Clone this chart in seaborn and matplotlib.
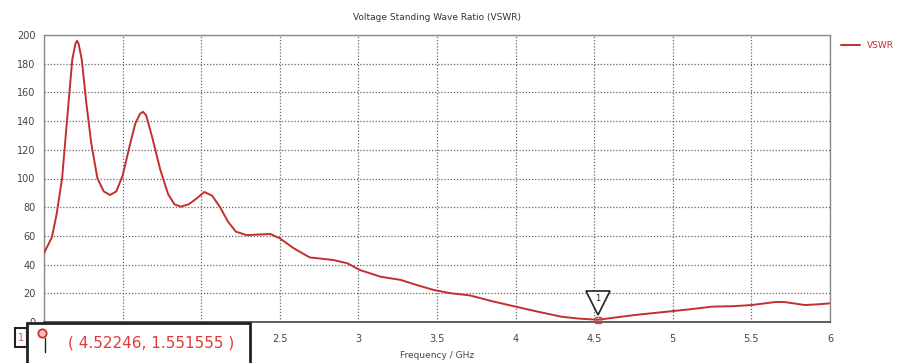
import matplotlib
matplotlib.use("Agg")
import matplotlib.pyplot as plt
import matplotlib.transforms as mtransforms
from matplotlib.patches import Rectangle
import seaborn as sns
import pandas as pd

# ---- data ----
freq = [1.00, 1.05, 1.08, 1.115, 1.15, 1.18, 1.20, 1.21, 1.22, 1.24, 1.27, 1.30, 1.34, 1.38, 1.42,
        1.46, 1.50, 1.55, 1.58, 1.61, 1.63, 1.65, 1.69, 1.74, 1.79, 1.83, 1.87, 1.92, 1.97,
        2.02, 2.07, 2.12, 2.17, 2.22, 2.29, 2.37, 2.44, 2.50, 2.59, 2.69, 2.84, 2.93,
        3.01, 3.14, 3.27, 3.37, 3.48, 3.59, 3.71, 3.85, 4.00, 4.15, 4.29, 4.40, 4.52246,
        4.64, 4.76, 5.00, 5.12, 5.25, 5.38, 5.50, 5.65, 5.71, 5.78, 5.84, 5.92, 6.00]
vswr = [48, 59, 75, 100, 145, 183, 194, 196, 194, 183, 152, 125, 100, 91, 88.5,
        91, 102, 125, 138, 145, 146.5, 144, 128, 106, 89, 82, 80.4, 82, 86,
        90.6, 88, 80, 70, 63, 60.5, 61, 61.3, 58.3, 51.3, 45, 43.2, 40.9,
        36.2, 31.6, 29.3, 25.8, 22.3, 20, 18.5, 14.5, 10.7, 7, 3.7, 2.4, 1.551555,
        3.2, 4.9, 7.6, 9, 10.7, 11, 11.8, 13.9, 13.9, 12.8, 11.8, 12.3, 13]
x_ticks = [1, 1.5, 2, 2.5, 3, 3.5, 4, 4.5, 5, 5.5, 6]
# labels 1, 1.5 and 2 are hidden behind the marker readout box in the reference
x_tick_labels = ["", "", "", "2.5", "3", "3.5", "4", "4.5", "5", "5.5", "6"]
y_ticks = list(range(0, 201, 20))
marker_x = 4.52246
marker_y = 1.551555
series_name = "VSWR"
title = "Voltage Standing Wave Ratio (VSWR)"
xlabel = "Frequency / GHz"

df = pd.DataFrame({"Frequency": freq, "VSWR": vswr})

sns.set_style("white")
plt.rcParams["font.family"] = ["DejaVu Sans"]

fig = plt.figure(figsize=(9.01, 3.63), dpi=100)
ax = fig.add_axes([44 / 901, 1 - 322 / 363, (830 - 44) / 901, (322 - 35) / 363])

line_color = "#c0302e"
sns.lineplot(data=df, x="Frequency", y="VSWR", ax=ax, color=line_color,
             linewidth=1.4, label=series_name, zorder=3)

ax.set_xlim(1, 6)
ax.set_ylim(0, 200)
ax.set_xticks(x_ticks)
ax.set_xticklabels(x_tick_labels)
ax.set_yticks(y_ticks)
ax.tick_params(axis="both", labelsize=7, colors="#444444", length=0, pad=6)
ax.tick_params(axis="x", pad=9)
ax.grid(True, linestyle=(0, (1, 1.5)), color="#666666", linewidth=0.9)
for s in ax.spines.values():
    s.set_color("#8a8a8a")
    s.set_linewidth(1.0)
ax.spines["bottom"].set_color("#444444")
ax.spines["bottom"].set_linewidth(1.2)

ax.set_xlabel("")
ax.set_ylabel("")
fig.text(437 / 901, 1 - 17 / 363, title, ha="center", va="center", fontsize=6.5, color="#333333")
fig.text(437 / 901, 1 - 355 / 363, xlabel, ha="center", va="center", fontsize=6.5, color="#444444")

leg = ax.legend(loc="upper left", bbox_to_anchor=(1.01, 0.99), frameon=False,
                handlelength=2.0, fontsize=6.5, labelcolor=line_color, borderaxespad=0)

# marker at minimum
ax.plot([marker_x], [marker_y], marker="s", markersize=5, markerfacecolor="none",
        markeredgecolor="#e04040", markeredgewidth=1.0, zorder=5, clip_on=False)
off = mtransforms.offset_copy(ax.transData, fig=fig, x=0, y=12, units="points")
ax.plot([marker_x], [marker_y], marker="v", markersize=17, markerfacecolor="white",
        markeredgecolor="#222222", markeredgewidth=1.2, transform=off, zorder=6, clip_on=False)
off2 = mtransforms.offset_copy(ax.transData, fig=fig, x=0, y=15, units="points")
ax.text(marker_x, marker_y, "1", transform=off2, ha="center", va="center",
        fontsize=6, color="#222222", zorder=7)

# marker readout box
box = Rectangle((27 / 901, -0.02), (250 - 27) / 901, (1 - 323 / 363) + 0.02,
                transform=fig.transFigure, facecolor="white", edgecolor="#222222",
                linewidth=2.0, zorder=10, clip_on=False)
fig.patches.append(box)
small = Rectangle((15 / 901, 1 - 347 / 363), 12 / 901, 19 / 363,
                  transform=fig.transFigure, facecolor="white", edgecolor="#222222",
                  linewidth=1.5, zorder=10)
fig.patches.append(small)
fig.text(21 / 901, 1 - 338 / 363, "1", ha="center", va="center", fontsize=7,
         color="#d05050", zorder=11)
fig.lines.append(plt.Line2D([42 / 901], [1 - 333 / 363], marker="o", markersize=6,
                            markerfacecolor="#f0c0c0", markeredgecolor="#d03030",
                            markeredgewidth=1.3, transform=fig.transFigure, zorder=11))
fig.lines.append(plt.Line2D([45 / 901, 45 / 901], [1 - 338 / 363, 1 - 352 / 363],
                            color="#222222", linewidth=1.0, transform=fig.transFigure, zorder=11))
fig.text(151 / 901, 1 - 343 / 363, "( 4.52246, 1.551555 )", ha="center", va="center",
         fontsize=11, color="#e03a3a", zorder=11)

fig.savefig("out.png", dpi=100)
